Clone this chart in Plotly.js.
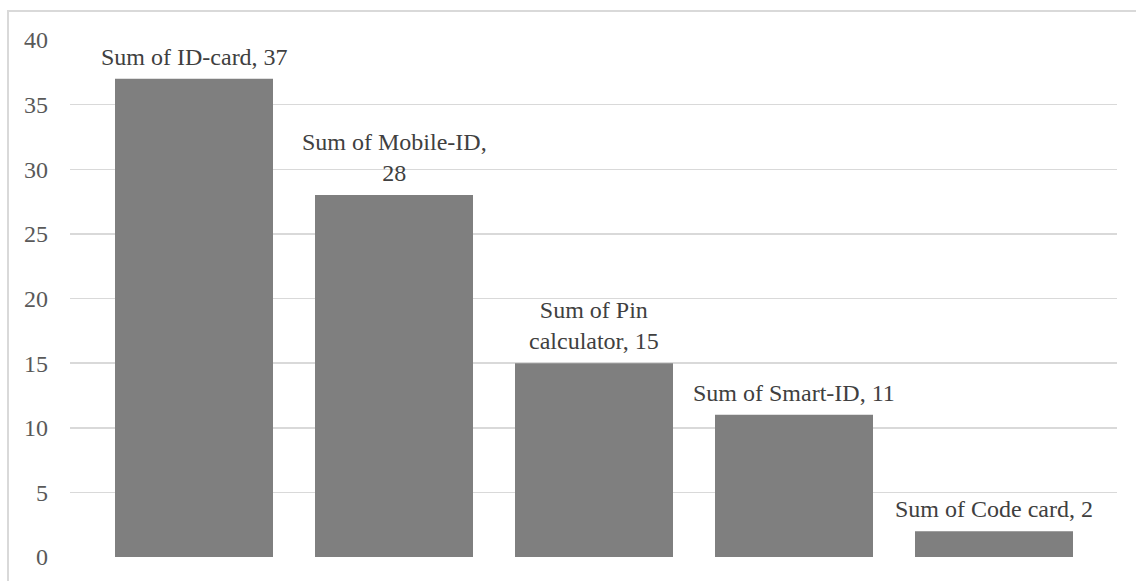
<!DOCTYPE html>
<html>
<head>
<meta charset="utf-8">
<script src="https://cdn.plot.ly/plotly-3.0.1.min.js"></script>
<style>
  html, body { margin: 0; padding: 0; background: #ffffff; }
  #wrap { position: relative; width: 1136px; height: 581px; overflow: hidden; }
  #chart { width: 1136px; height: 581px; }
  #frame {
    position: absolute; left: 7px; top: 10px; width: 1200px; height: 700px;
    border-left: 2px solid #d9d9d9; border-top: 2px solid #d9d9d9;
    pointer-events: none;
  }
</style>
</head>
<body>
<div id="wrap">
  <div id="chart"></div>
  <div id="frame"></div>
</div>
<script>
// Authentication methods, summed counts
const categories = ["ID-card", "Mobile-ID", "Pin calculator", "Smart-ID", "Code card"];
const values = [37, 28, 15, 11, 2];
// Data label text (line breaks as shown on the chart)
const labelTexts = [
  "Sum of ID-card, 37",
  "Sum of Mobile-ID,<br>28",
  "Sum of Pin<br>calculator, 15",
  "Sum of Smart-ID, 11",
  "Sum of Code card, 2"
];
const yTicks = [0, 5, 10, 15, 20, 25, 30, 35, 40];

const FONT = "'Liberation Serif', 'Times New Roman', 'DejaVu Serif', serif";

const trace = {
  type: "bar",
  x: categories,
  y: values,
  width: 0.79,
  marker: { color: "#7f7f7f" },
  hoverinfo: "x+y"
};

const annotations = categories.map((c, i) => ({
  x: c,
  y: values[i],
  xref: "x",
  yref: "y",
  text: labelTexts[i],
  showarrow: false,
  yanchor: "bottom",
  yshift: 7,
  font: { family: FONT, size: 24, color: "#404040" }
}));

const layout = {
  width: 1136,
  height: 581,
  margin: { l: 70, r: 19, t: 40, b: 24 },
  paper_bgcolor: "#ffffff",
  plot_bgcolor: "#ffffff",
  showlegend: false,
  bargap: 0.21,
  xaxis: {
    type: "category",
    range: [-0.62, 4.615],
    showticklabels: false,
    showgrid: false,
    zeroline: false,
    showline: false,
    ticks: ""
  },
  yaxis: {
    range: [0, 40],
    tickvals: yTicks,
    ticktext: yTicks.map(String),
    showgrid: true,
    gridcolor: "#d9d9d9",
    gridwidth: 1.5,
    zeroline: false,
    showline: false,
    ticks: "",
    ticklabelstandoff: 21,
    tickfont: { family: FONT, size: 24, color: "#595959" }
  },
  annotations: annotations
};

Plotly.newPlot("chart", [trace], layout, { displayModeBar: false, staticPlot: true });
</script>
</body>
</html>
